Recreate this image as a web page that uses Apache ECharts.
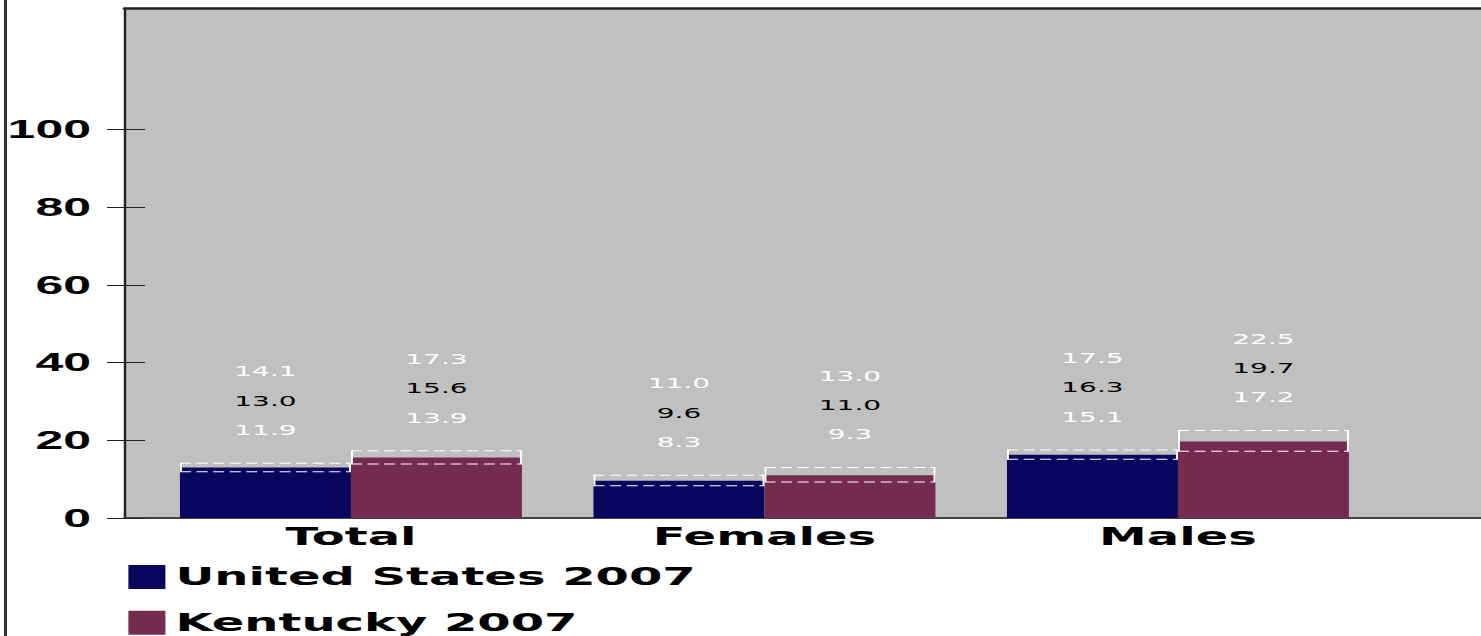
<!DOCTYPE html>
<html>
<head>
<meta charset="utf-8">
<script src="https://cdn.jsdelivr.net/npm/echarts@6/dist/echarts.min.js"></script>
<style>
  html, body { margin: 0; padding: 0; background: #fff; overflow: hidden; }
  #wrap { width: 1481px; height: 636px; overflow: hidden; position: relative; }
  #chart { width: 740.5px; height: 636px; transform: scaleX(2); transform-origin: 0 0; }
</style>
</head>
<body>
<div id="wrap"><div id="chart"></div></div>
<script>
// ---- data ----
const categories = ['Total', 'Females', 'Males'];
const seriesNames = ['United States 2007', 'Kentucky 2007'];
const usEstimate = [13.0, 9.6, 16.3];
const usLower = [11.9, 8.3, 15.1];
const usUpper = [14.1, 11.0, 17.5];
const kyEstimate = [15.6, 11.0, 19.7];
const kyLower = [13.9, 9.3, 17.2];
const kyUpper = [17.3, 13.0, 22.5];
const yTicks = [0, 20, 40, 60, 80, 100];

// ---- styles ----
const Y_MAX = 131.3;
const GAP = 0.173;
const colors = ['#08065e', '#732c50'];
const boldFont = 'DejaVu Sans';

const ciData = [];
categories.forEach((c, i) => {
  ciData.push([i, 0, usLower[i], usEstimate[i], usUpper[i]]);
  ciData.push([i, 1, kyLower[i], kyEstimate[i], kyUpper[i]]);
});

const chart = echarts.init(document.getElementById('chart'), null, { renderer: 'svg', width: 740.5, height: 636 });

const option = {
  animation: false,
  grid: [
    { left: 62.5, right: 0, top: 8, bottom: 118, show: true, backgroundColor: '#c0c0c0', borderWidth: 0,
      outerBoundsMode: 'none', containLabel: false },
    { left: 72.1, width: 620.25, top: 8, bottom: 118, show: false, outerBoundsMode: 'none', containLabel: false }
  ],
  xAxis: [
    { gridIndex: 0, type: 'value', min: 0, max: 1, position: 'bottom',
      axisLine: { show: true, onZero: false, lineStyle: { color: '#444', width: 2 } },
      axisTick: { show: false }, axisLabel: { show: false }, splitLine: { show: false } },
    { gridIndex: 0, type: 'value', min: 0, max: 1, position: 'top',
      axisLine: { show: true, onZero: false, lineStyle: { color: '#222', width: 2.5 } },
      axisTick: { show: false }, axisLabel: { show: false }, splitLine: { show: false } },
    { gridIndex: 1, type: 'category', data: categories, position: 'bottom',
      axisLine: { show: false }, axisTick: { show: false }, splitLine: { show: false },
      axisLabel: { color: '#000', fontFamily: boldFont, fontWeight: 'bold', fontSize: 24, margin: 7 } }
  ],
  yAxis: [
    { gridIndex: 0, type: 'value', min: 0, max: Y_MAX, position: 'left',
      axisLine: { show: true, onZero: false, lineStyle: { color: '#222', width: 1.2 } },
      axisTick: { show: true, inside: false, length: 9, customValues: yTicks, lineStyle: { color: '#222', width: 1 } },
      axisLabel: { customValues: yTicks, color: '#000', fontFamily: 'Liberation Sans', fontWeight: 'bold', fontSize: 25, margin: 17 },
      splitLine: { show: false } },
    { gridIndex: 0, type: 'value', min: 0, max: Y_MAX, position: 'left',
      axisLine: { show: false },
      axisTick: { show: true, inside: true, length: 10, customValues: yTicks, lineStyle: { color: '#222', width: 1 } },
      axisLabel: { show: false }, splitLine: { show: false } },
    { gridIndex: 1, type: 'value', min: 0, max: Y_MAX, show: false }
  ],
  legend: {
    orient: 'vertical', left: 64.2, top: 565, padding: 0,
    itemWidth: 18.5, itemHeight: 24, itemGap: 21.7, icon: 'rect',
    data: seriesNames,
    textStyle: { color: '#000', fontFamily: boldFont, fontWeight: 'bold', fontSize: 24 }
  },
  graphic: [
    { type: 'line', shape: { x1: 2.75, y1: 0, x2: 2.75, y2: 636 }, style: { stroke: '#333', lineWidth: 1.5 } }
  ],
  series: [
    { name: seriesNames[0], type: 'bar', xAxisIndex: 2, yAxisIndex: 2, data: usEstimate,
      barGap: '0%', barCategoryGap: (GAP * 100) + '%', itemStyle: { color: colors[0] } },
    { name: seriesNames[1], type: 'bar', xAxisIndex: 2, yAxisIndex: 2, data: kyEstimate,
      barGap: '0%', barCategoryGap: (GAP * 100) + '%', itemStyle: { color: colors[1] } },
    { type: 'custom', xAxisIndex: 2, yAxisIndex: 2, data: ciData, clip: false, z: 5,
      encode: { x: 0, y: [2, 3, 4] },
      renderItem: function (params, api) {
        const cat = api.value(0), s = api.value(1);
        const lo = api.value(2), est = api.value(3), hi = api.value(4);
        const center = api.coord([cat, 0]);
        const band = api.size([1, 0])[0];
        const bw = band * (1 - GAP) / 2;
        const x0 = center[0] + (s === 0 ? -bw : 0);
        const x1 = x0 + bw;
        const cx = (x0 + x1) / 2;
        const yHi = api.coord([cat, hi])[1];
        const yLo = api.coord([cat, lo])[1];
        const dash = { stroke: '#fff', lineWidth: 1, lineDash: [5.5, 2.8] };
        const side = { stroke: '#fff', lineWidth: 1 };
        const txt = (v, y, col) => ({
          type: 'text', x: cx, y: y,
          style: { text: v.toFixed(1), fill: col, font: '14px "DejaVu Sans"', align: 'center', verticalAlign: 'middle' }
        });
        const base = yHi - 33.3;
        return {
          type: 'group',
          children: [
            { type: 'line', shape: { x1: x0, y1: yHi, x2: x1, y2: yHi }, style: dash },
            { type: 'line', shape: { x1: x0, y1: yLo, x2: x1, y2: yLo }, style: dash },
            { type: 'line', shape: { x1: x0 + 0.5, y1: yHi, x2: x0 + 0.5, y2: yLo }, style: side },
            { type: 'line', shape: { x1: x1 - 0.5, y1: yHi, x2: x1 - 0.5, y2: yLo }, style: side },
            txt(lo, base, '#fff'),
            txt(est, base - 29.3, '#000'),
            txt(hi, base - 58.6, '#fff')
          ]
        };
      }
    }
  ]
};
chart.setOption(option);
</script>
</body>
</html>
